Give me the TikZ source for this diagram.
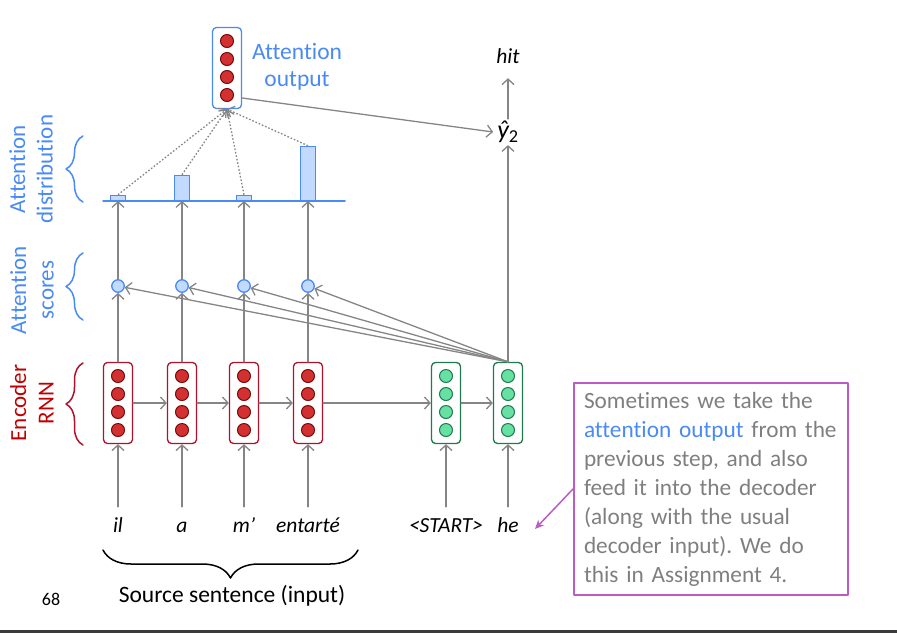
\documentclass[tikz,border=0pt]{standalone}
\usepackage{fix-cm}
\usepackage{amsmath}
\usepackage{fontspec}
\setmainfont[Ligatures=CommonOff]{Carlito}
\usetikzlibrary{arrows.meta,positioning,calc,decorations.pathreplacing}
\definecolor{EncRed}{HTML}{B0122C}
\definecolor{EncDot}{HTML}{D33131}
\definecolor{EncDotRim}{HTML}{7A0A0A}
\definecolor{DecGreen}{HTML}{1F7A4D}
\definecolor{DecDot}{HTML}{66E0A3}
\definecolor{AttnBlue}{HTML}{4A8AF4}
\definecolor{AttnPale}{HTML}{C2DAFF}
\definecolor{ArrowGray}{HTML}{858585}
\definecolor{NotePurple}{HTML}{BB5CC6}
\definecolor{NoteGray}{HTML}{7F7F7F}
\definecolor{LabelRed}{HTML}{C00000}
\definecolor{SlideBar}{HTML}{3A3A3A}

\tikzset{
  vecbox/.style={draw=#1,rounded corners=4pt,line width=1.3pt,fill=white,
    minimum width=29pt,minimum height=81pt,inner sep=0pt},
  unitdot/.style 2 args={circle,draw=#1,fill=#2,line width=1pt,
    minimum size=13pt,inner sep=0pt},
  flow/.style={draw=ArrowGray,line width=1.3pt,
    -{Straight Barb[length=5.5pt,width=12pt,line width=1.3pt]}},
  word/.style={font=\fontsize{21.5}{24}\selectfont\itshape,
    text height=14pt,text depth=4pt,inner xsep=2pt,inner ysep=11pt},
  sidelabel/.style={rotate=90,align=center,
    font=\fontsize{23}{27.5}\selectfont},
  sidebrace/.style={decorate,decoration={brace,amplitude=17pt},
    line width=1.5pt},
  attnbar/.style={draw=AttnBlue,fill=AttnPale,line width=1.3pt,
    minimum width=15pt,inner sep=0pt,anchor=south}
}

\begin{document}
\frenchspacing
\begin{tikzpicture}[x=1pt,y=-1pt,line cap=round,line join=round]
  \path[use as bounding box] (0,0) rectangle (897,633);
  \fill[SlideBar] (0,630) rectangle (897,633);

  % Encoder and decoder hidden states.
  \foreach \i/\x in {1/118,2/182,3/244,4/308} {
    \node[vecbox=EncRed] (enc\i) at (\x,403) {};
    \foreach \dy in {-27,-9,9,27}
      \node[unitdot={EncDotRim}{EncDot}] at ($(enc\i)+(0,\dy)$) {};
  }
  \foreach \i/\x in {1/446,2/508} {
    \node[vecbox=DecGreen] (dec\i) at (\x,403) {};
    \foreach \dy in {-27,-9,9,27}
      \node[unitdot={DecGreen}{DecDot}] at ($(dec\i)+(0,\dy)$) {};
  }

  % Input words.
  \node[word] (w1) at (118,527) {il};
  \node[word] (w2) at (182,527) {a};
  \node[word] (w3) at (244,527) {m’};
  \node[word] (w4) at (308,527) {entarté};
  \node[word] (wstart) at (446,527) {<START>};
  \node[word] (whe) at (508,527) {he};

  \foreach \i in {1,...,4} \draw[flow] (w\i) -- (enc\i);
  \draw[flow] (wstart) -- (dec1);
  \draw[flow] (whe) -- (dec2);

  % Recurrent links.
  \draw[flow] (enc1) -- (enc2);
  \draw[flow] (enc2) -- (enc3);
  \draw[flow] (enc3) -- (enc4);
  \draw[flow] (enc4) -- (dec1);
  \draw[flow] (dec1) -- (dec2);

  % Attention scores and distribution.
  \foreach \i/\x/\h in {1/118/5,2/182/25,3/244/5,4/308/54} {
    \node[unitdot={AttnBlue}{AttnPale},minimum size=12.5pt,line width=1.3pt]
      (s\i) at (\x,286) {};
    \node[attnbar,minimum height=\h pt] (bar\i) at (\x,201) {};
    \draw[flow] (enc\i) -- (s\i);
    \draw[flow] (s\i) -- (bar\i.south);
    \draw[flow] (dec2.north) -- (s\i);
  }
  \draw[AttnBlue,line width=1.5pt] (103,201) -- (345,201);

  % Attention output.
  \node[vecbox=AttnBlue] (attn) at (227,68) {};
  \foreach \dy in {-27,-9,9,27}
    \node[unitdot={EncDotRim}{EncDot}] at ($(attn)+(0,\dy)$) {};
  \node[align=center,text=AttnBlue,font=\fontsize{23.5}{27}\selectfont]
    (attnlabel) at (297,67) {Attention\\output};
  \foreach \i in {1,...,4}
    \draw[flow,line cap=butt,dash pattern=on 1.6pt off 1.9pt]
      (bar\i.north) -- (attn.south);

  % Decoder output.
  \node[font=\fontsize{26}{28}\selectfont\itshape,inner xsep=4pt,
    inner ysep=2pt] (yhat) at (508,132) {ŷ{\upshape\textsubscript{2}}};
  \node[word] (hit) at (508,58) {hit};
  \draw[flow] (dec2) -- (yhat);
  \draw[flow] (yhat) -- (hit);
  \draw[flow] ($(attn.east)+(0,30)$) -- (yhat.west);

  % Side labels with braces.
  \node[sidelabel,text=AttnBlue] (distlabel) at (31,169)
    {Attention\\distribution};
  \draw[sidebrace,AttnBlue] (83,202) -- (83,136);
  \node[sidelabel,text=AttnBlue] (scorelabel) at (32,290)
    {Attention\\scores};
  \draw[sidebrace,AttnBlue] (83,320) -- (83,253);
  \node[sidelabel,text=LabelRed] (enclabel) at (32,403)
    {Encoder\\RNN};
  \draw[sidebrace,EncRed] (83,445) -- (83,363);

  % Source sentence brace.
  \draw[decorate,decoration={brace,amplitude=28pt},line width=1.5pt]
    (358,550) -- (103,550);
  \node[font=\fontsize{23.5}{26}\selectfont] (source) at (232,596)
    {Source sentence (input)};
  \node[font=\fontsize{18}{20}\selectfont] (pagenum) at (51,599) {68};

  % Callout.
  \node[draw=NotePurple,line width=2pt,anchor=north west,align=left,
    text=NoteGray,text width=254pt,inner xsep=10pt,minimum height=212pt,
    font=\fontsize{23.3}{29}\selectfont] (note) at (573,382)
    {Sometimes we take the\\
     {\color{AttnBlue}attention output} from the\\
     previous step, and also\\
     feed it into the decoder\\
     (along with the usual\\
     decoder input). We do\\
     this in Assignment 4.};
  \coordinate (hetip) at (535,529);
  \draw[NotePurple,line width=1.5pt,-{Stealth[length=9pt,width=8pt]}]
    (note.west) -- (hetip);
\end{tikzpicture}
\end{document}
